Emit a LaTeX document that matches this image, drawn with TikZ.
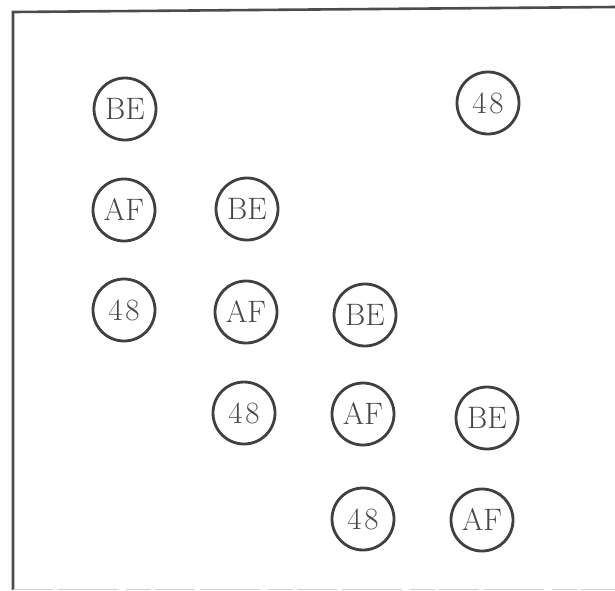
\documentclass[tikz,border=0pt]{standalone}
\begin{document}
\begin{tikzpicture}[x=1pt,y=-1pt,
  tok/.style={circle,draw=black!75,line width=2.8pt,minimum size=62pt,inner sep=0pt,
    font=\fontsize{31}{33}\selectfont,text=black!72},
  frame/.style={draw=black!70,line width=2.6pt}]
\useasboundingbox (0,0) rectangle (615,590);
\coordinate (tl) at (13,12);
\coordinate (tr) at (615,7);
\coordinate (bl) at (13,590);
\draw[frame] (tr) -- (tl) -- (bl);
\draw[black!18,line width=1pt,dash pattern=on 40pt off 5pt on 60pt off 8pt on 25pt off 4pt] (13,589) -- (615,589);
% row 1
\node[tok] (r1a) at (125,109) {BE};
\node[tok] (r1d) at (488,103) {4\kern3pt8};
% row 2
\node[tok] (r2a) at (124,210) {AF};
\node[tok] (r2b) at (247,209) {BE};
% row 3
\node[tok] (r3a) at (124,310) {4\kern3pt8};
\node[tok] (r3b) at (246,312) {AF};
\node[tok] (r3c) at (365,315) {BE};
% row 4
\node[tok] (r4b) at (244,413) {4\kern3pt8};
\node[tok] (r4c) at (363,414) {AF};
\node[tok] (r4d) at (487,418) {BE};
% row 5
\node[tok] (r5c) at (363,519) {4\kern3pt8};
\node[tok] (r5d) at (482,520) {AF};
\end{tikzpicture}
\end{document}
